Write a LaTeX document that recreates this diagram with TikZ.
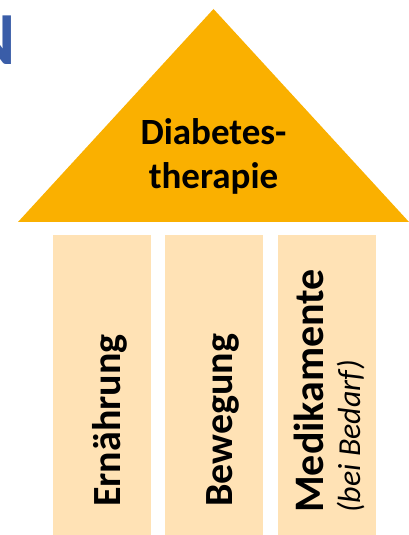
\documentclass[tikz,border=0pt]{standalone}
\usepackage{fontspec}
\setmainfont{Carlito}
\usepackage{tikz}
\usetikzlibrary{calc,positioning}
\definecolor{roofcol}{RGB}{250,176,0}
\definecolor{pillarcol}{RGB}{255,226,181}
\definecolor{titleblue}{RGB}{58,93,168}
\tikzstyle{pillar}=[rectangle, fill=pillarcol, draw=none,
                    minimum width=98pt, minimum height=300pt,
                    inner sep=0pt, anchor=south west]
\tikzstyle{label} =[rotate=90, anchor=base west, inner sep=0pt,
                    font=\fontsize{40}{44}\selectfont\bfseries]

\begin{document}
\begin{tikzpicture}[x=1pt, y=1pt]
                \useasboundingbox (0,0) rectangle (409,535);
                \clip (0,0) rectangle (409,535);

                % cut-off heading letter
                \node[anchor=base east, inner sep=0pt, text=titleblue,
                      font=\fontsize{75}{80}\selectfont\bfseries] (head) at (16,470) {N};

                % roof
                \coordinate (top) at (213.5,526);
                \coordinate (left) at (18,313);
                \coordinate (right) at (409,313);
                \fill[roofcol] (left) -- (top) -- (right) -- cycle;
                \node[align=center, inner sep=0pt,
                      font=\fontsize{37}{44}\selectfont\bfseries] (roof) at (213.5,379)
                      {Diabetes-\\therapie};

                % pillars
                \node[pillar] (p1) at (53,0) {};
                \node[pillar] (p2) at (165,0) {};
                \node[pillar] (p3) at (278,0) {};

                \node[label] (t1) at (120,28) {Ernährung};
                \node[label] (t2) at (232,28) {Bewegung};
                \node[label, font=\fontsize{42}{46}\selectfont\bfseries] (t3) at (323,22) {Medikamente};
                \node[label, font=\fontsize{32}{36}\selectfont\itshape] (t4) at (360,22) {(bei Bedarf)};

        \end{tikzpicture}
\end{document}
